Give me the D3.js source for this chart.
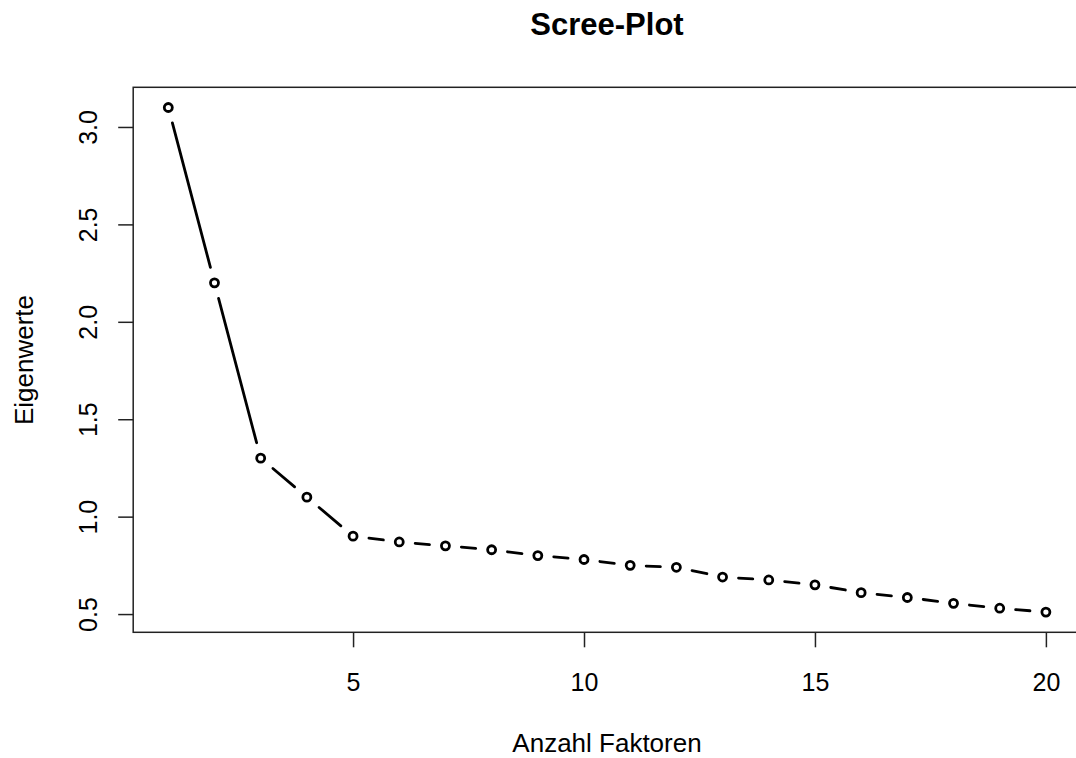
<!DOCTYPE html>
<html>
<head>
<meta charset="utf-8">
<script src="https://cdn.jsdelivr.net/npm/d3@7"></script>
<style>
    body { margin: 0; background: #fff; }
    svg { display: block; font-family: "Liberation Sans", Arial, sans-serif; }
</style>
</head>
<body>
<svg id="chart" width="1076" height="758"></svg>
<script>
// eigenvalues
var factors = d3.range(1, 21),
    eigenvalues = [3.10, 2.20, 1.30, 1.10, 0.90, 0.87, 0.85, 0.83, 0.80, 0.78,
                   0.75, 0.74, 0.69, 0.675, 0.65, 0.61, 0.585, 0.555, 0.53, 0.51],
    xTicks = [5, 10, 15, 20],
    yTicks = [0.5, 1.0, 1.5, 2.0, 2.5, 3.0];

var svg = d3.select("#chart"),
    margin = {top: 87.3, right: -5, bottom: 125.7, left: 133.2},
    width = 1076 - margin.left - margin.right,
    height = 758 - margin.top - margin.bottom,
    g = svg.append("g").attr("transform", "translate(" + margin.left + "," + margin.top + ")");

// R style: data range padded by 4% on each side
function pad(ext) {
    var d = (ext[1] - ext[0]) * 0.04;
    return [ext[0] - d, ext[1] + d];
}

var x = d3.scaleLinear().domain(pad(d3.extent(factors))).range([0, width]),
    y = d3.scaleLinear().domain(pad(d3.extent(eigenvalues))).range([height, 0]);

g.append("g")
    .attr("transform", "translate(0," + height + ")")
    .call(d3.axisBottom(x).tickValues(xTicks).tickSize(15).tickSizeOuter(0).tickFormat(d3.format("d")))
    .call(function(a) {
        a.select(".domain").remove();
        a.selectAll("line").attr("stroke", "#222").attr("stroke-width", 1.5);
        a.selectAll("text")
            .attr("y", 59).attr("dy", 0)
            .attr("fill", "#000")
            .style("font-size", "25px");
    });

g.append("g")
    .call(d3.axisLeft(y).tickValues(yTicks).tickSize(15).tickSizeOuter(0).tickFormat(d3.format(".1f")))
    .call(function(a) {
        a.select(".domain").remove();
        a.selectAll("line").attr("stroke", "#222").attr("stroke-width", 1.5);
        a.selectAll("text")
            .attr("x", 0).attr("dy", 0)
            .attr("text-anchor", "middle")
            .attr("transform", "translate(-36,0) rotate(-90)")
            .attr("fill", "#000")
            .style("font-size", "25px");
    });

// plot box
g.append("rect")
    .attr("width", width)
    .attr("height", height)
    .attr("fill", "none")
    .attr("stroke", "#222")
    .attr("stroke-width", 1.5);

// type="b": segments with gaps around the points
var gap = 16,
    pts = factors.map(function(f, i) { return [x(f), y(eigenvalues[i])]; }),
    segs = d3.pairs(pts).map(function(p) {
        var dx = p[1][0] - p[0][0],
            dy = p[1][1] - p[0][1],
            len = Math.sqrt(dx * dx + dy * dy),
            ux = dx / len,
            uy = dy / len;
        return [p[0][0] + ux * gap, p[0][1] + uy * gap, p[1][0] - ux * gap, p[1][1] - uy * gap];
    });

g.selectAll(".seg")
    .data(segs)
    .enter().append("line")
    .attr("class", "seg")
    .attr("x1", function(d) { return d[0]; })
    .attr("y1", function(d) { return d[1]; })
    .attr("x2", function(d) { return d[2]; })
    .attr("y2", function(d) { return d[3]; })
    .attr("stroke", "#000")
    .attr("stroke-width", 2.8)
    .attr("stroke-linecap", "round");

g.selectAll(".pt")
    .data(pts)
    .enter().append("circle")
    .attr("class", "pt")
    .attr("cx", function(d) { return d[0]; })
    .attr("cy", function(d) { return d[1]; })
    .attr("r", 4)
    .attr("fill", "none")
    .attr("stroke", "#000")
    .attr("stroke-width", 2.8);

// titles
svg.append("text")
    .attr("x", 607).attr("y", 35)
    .attr("text-anchor", "middle")
    .style("font-size", "31px")
    .style("font-weight", "bold")
    .text("Scree-Plot");

svg.append("text")
    .attr("x", 607).attr("y", 752)
    .attr("text-anchor", "middle")
    .style("font-size", "26px")
    .text("Anzahl Faktoren");

svg.append("text")
    .attr("transform", "translate(33,360) rotate(-90)")
    .attr("text-anchor", "middle")
    .style("font-size", "26px")
    .text("Eigenwerte");
</script>
</body>
</html>
